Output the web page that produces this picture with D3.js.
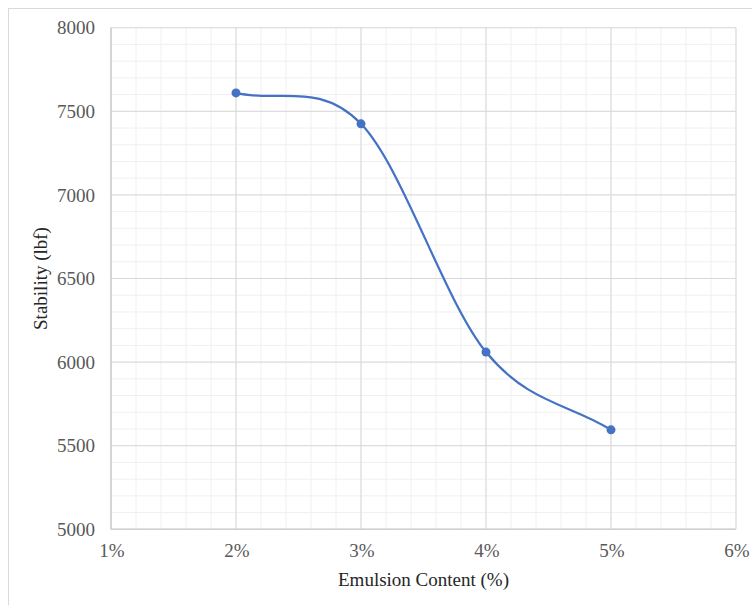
<!DOCTYPE html>
<html>
<head>
<meta charset="utf-8">
<script src="https://cdn.jsdelivr.net/npm/d3@7"></script>
<style>
  body { margin: 0; background: #fff; }
  text { font-family: "Liberation Serif", "Times New Roman", serif; }
</style>
</head>
<body>
<svg id="chart"></svg>
<script>
const emulsion = [2, 3, 4, 5];
const stability = [7610, 7425, 6060, 5595];
const xTicks = [1, 2, 3, 4, 5, 6];
const yTicks = [5000, 5500, 6000, 6500, 7000, 7500, 8000];

const width = 752, height = 605;
const svg = d3.select("#chart").attr("width", width).attr("height", height);

const margin = {left: 111, right: 736, top: 27.7, bottom: 529.3};
const x = d3.scaleLinear().domain([1, 6]).range([margin.left, margin.right]);
const y = d3.scaleLinear().domain([5000, 8000]).range([margin.bottom, margin.top]);

// chart border
svg.append("rect")
  .attr("x", 8.5).attr("y", 8.5)
  .attr("width", width).attr("height", height)
  .attr("fill", "none").attr("stroke", "#d9d9d9");

// minor grid
const minorX = d3.range(1, 6.001, 0.2);
const minorY = d3.range(5000, 8001, 100);
svg.append("g").selectAll("line").data(minorX).enter().append("line")
  .attr("x1", d => x(d)).attr("x2", d => x(d))
  .attr("y1", margin.top).attr("y2", margin.bottom)
  .attr("stroke", "#f0f0f0");
svg.append("g").selectAll("line").data(minorY).enter().append("line")
  .attr("y1", d => y(d)).attr("y2", d => y(d))
  .attr("x1", margin.left).attr("x2", margin.right)
  .attr("stroke", "#f0f0f0");

// major grid
svg.append("g").selectAll("line").data(xTicks).enter().append("line")
  .attr("x1", d => x(d)).attr("x2", d => x(d))
  .attr("y1", margin.top).attr("y2", margin.bottom)
  .attr("stroke", "#d9d9d9");
svg.append("g").selectAll("line").data(yTicks).enter().append("line")
  .attr("y1", d => y(d)).attr("y2", d => y(d))
  .attr("x1", margin.left).attr("x2", margin.right)
  .attr("stroke", "#d9d9d9");

// axes lines
svg.append("line")
  .attr("x1", margin.left).attr("x2", margin.left)
  .attr("y1", margin.top).attr("y2", margin.bottom)
  .attr("stroke", "#cfcfcf").attr("stroke-width", 1.5);
svg.append("line")
  .attr("x1", margin.left).attr("x2", margin.right)
  .attr("y1", margin.bottom).attr("y2", margin.bottom)
  .attr("stroke", "#cfcfcf").attr("stroke-width", 1.5);

// tick labels
svg.append("g").selectAll("text").data(yTicks).enter().append("text")
  .attr("x", 95).attr("y", d => y(d))
  .attr("dy", "0.35em")
  .attr("text-anchor", "end")
  .attr("font-size", 19)
  .attr("fill", "#595959")
  .text(d => d);
svg.append("g").selectAll("text").data(xTicks).enter().append("text")
  .attr("x", d => x(d) + 1).attr("y", 557)
  .attr("text-anchor", "middle")
  .attr("font-size", 19)
  .attr("fill", "#595959")
  .text(d => d + "%");

// axis titles
svg.append("text")
  .attr("x", (margin.left + margin.right) / 2).attr("y", 586)
  .attr("text-anchor", "middle")
  .attr("font-size", 19)
  .attr("fill", "#262626")
  .text("Emulsion Content (%)");
svg.append("text")
  .attr("transform", `translate(47, ${(margin.top + margin.bottom) / 2}) rotate(-90)`)
  .attr("text-anchor", "middle")
  .attr("font-size", 19)
  .attr("fill", "#262626")
  .text("Stability (lbf)");

// smoothed line: catmull-rom style bezier, end tangents from mirrored points
function smoothPath(p) {
  const path = d3.path();
  const n = p.length;
  const ext = [
    [2 * p[0][0] - p[1][0], 2 * p[0][1] - p[1][1]],
    ...p,
    [2 * p[n-1][0] - p[n-2][0], 2 * p[n-1][1] - p[n-2][1]]
  ];
  path.moveTo(p[0][0], p[0][1]);
  for (let i = 1; i < n; i++) {
    const p0 = ext[i-1], p1 = ext[i], p2 = ext[i+1], p3 = ext[i+2];
    path.bezierCurveTo(
      p1[0] + (p2[0] - p0[0]) / 6, p1[1] + (p2[1] - p0[1]) / 6,
      p2[0] - (p3[0] - p1[0]) / 6, p2[1] - (p3[1] - p1[1]) / 6,
      p2[0], p2[1]);
  }
  return path.toString();
}

const pts = emulsion.map((e, i) => [e, stability[i]]);
const pix = pts.map(d => [x(d[0]), y(d[1])]);
svg.append("path")
  .attr("d", smoothPath(pix))
  .attr("fill", "none")
  .attr("stroke", "#4472c4")
  .attr("stroke-width", 2.25);
svg.append("g").selectAll("circle").data(pts).enter().append("circle")
  .attr("cx", d => x(d[0])).attr("cy", d => y(d[1]))
  .attr("r", 4.5)
  .attr("fill", "#4472c4");
</script>
</body>
</html>
